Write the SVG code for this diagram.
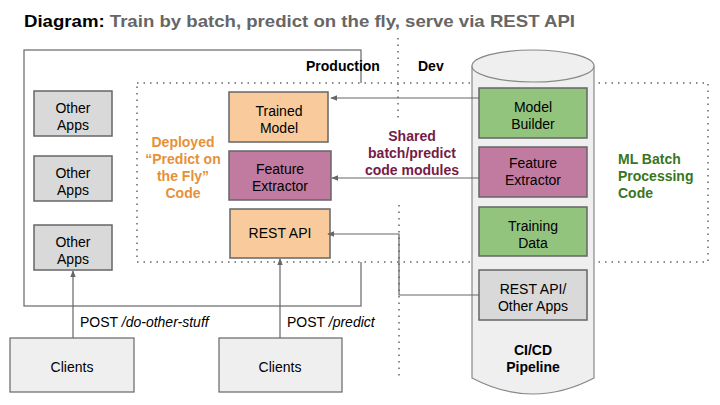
<svg xmlns="http://www.w3.org/2000/svg" width="720" height="405" viewBox="0 0 720 405">
<defs>
<style>
text{font-family:"Liberation Sans",Arial,sans-serif}
.box{stroke:#666;stroke-width:1.5}
.gray{fill:#d9d9d9}
.orange{fill:#f9cb9c}
.purple{fill:#c27ba0}
.green{fill:#93c47d}
.lbl{font-size:14px;fill:#000;text-anchor:middle}
.conn{stroke:#666;stroke-width:1.2;fill:none}
.dot{stroke:#666;stroke-width:1.5;stroke-dasharray:1.5 5;fill:none}
.b{font-weight:bold}
</style>
<marker id="arr" viewBox="0 0 10 10" refX="9" refY="5" markerWidth="6" markerHeight="6" orient="auto-start-reverse">
<path d="M0,1 L10,5 L0,9 z" fill="#666"/>
</marker>
</defs>
<rect width="720" height="405" fill="#fff"/>
<text x="24" y="27" font-size="17" class="b" textLength="551" lengthAdjust="spacingAndGlyphs"><tspan fill="#000">Diagram:</tspan><tspan fill="#666"> Train by batch, predict on the fly, serve via REST API</tspan></text>

<g id="production">
<rect x="24" y="50" width="337" height="256" fill="none" stroke="#666" stroke-width="1.2"/>
<text x="306" y="71" font-size="14" class="b">Production</text>
</g>
<g id="deployed-area">
<rect x="137" y="83" width="571" height="179" class="dot" style="fill:#fff"/>
</g>
<g id="dev-label"><text x="418" y="71" font-size="14" class="b">Dev</text></g>
<g id="divider">
<line x1="398" y1="38" x2="398" y2="120" class="dot"/>
<line x1="399" y1="205" x2="399" y2="380" class="dot"/>
</g>

<g id="other-apps-1"><rect x="34" y="91" width="78" height="45" class="box gray"/><text class="lbl" x="73" y="113">Other</text><text class="lbl" x="73" y="130">Apps</text></g>
<g id="other-apps-2"><rect x="34" y="156" width="78" height="45" class="box gray"/><text class="lbl" x="73" y="178">Other</text><text class="lbl" x="73" y="195">Apps</text></g>
<g id="other-apps-3"><rect x="34" y="225" width="78" height="45" class="box gray"/><text class="lbl" x="73" y="247">Other</text><text class="lbl" x="73" y="264">Apps</text></g>

<g id="deployed-label" font-size="14" text-anchor="middle">
<text x="183" y="147" fill="#e69138" class="b">Deployed</text>
<text x="183" y="164" fill="#e69138" class="b">“Predict on</text>
<text x="183" y="181" fill="#e69138" class="b">the Fly”</text>
<text x="183" y="198" fill="#e69138" class="b">Code</text>
</g>

<g id="trained-model"><rect x="229" y="92" width="99" height="50" class="box orange"/><text class="lbl" x="279" y="116">Trained</text><text class="lbl" x="279" y="133">Model</text></g>
<g id="feature-extractor-prod"><rect x="229" y="151" width="102" height="49" class="box purple"/><text class="lbl" x="280" y="174">Feature</text><text class="lbl" x="280" y="191">Extractor</text></g>
<g id="rest-api"><rect x="230" y="209" width="100" height="49" class="box orange"/><text class="lbl" x="280" y="238">REST API</text></g>

<g id="shared-label" font-size="14" text-anchor="middle">
<text x="412" y="141" fill="#741b47" class="b">Shared</text>
<text x="412" y="158" fill="#741b47" class="b">batch/predict</text>
<text x="412" y="175" fill="#741b47" class="b">code modules</text>
</g>

<g id="cicd-pipeline">
<path d="M472,66 L472,378 Q533,410 594,378 L594,66" fill="#efefef" stroke="#888" stroke-width="1.2"/>
<ellipse cx="533" cy="66" rx="61" ry="16" fill="#efefef" stroke="#888" stroke-width="1.2"/>
<text class="lbl b" x="533" y="355">CI/CD</text>
<text class="lbl b" x="533" y="372">Pipeline</text>
</g>
<g id="model-builder"><rect x="479" y="88" width="108" height="50" class="box green"/><text class="lbl" x="533" y="112">Model</text><text class="lbl" x="533" y="129">Builder</text></g>
<g id="feature-extractor-dev"><rect x="479" y="147" width="108" height="50" class="box purple"/><text class="lbl" x="533" y="168">Feature</text><text class="lbl" x="533" y="185">Extractor</text></g>
<g id="training-data"><rect x="479" y="207" width="108" height="49" class="box green"/><text class="lbl" x="533" y="231">Training</text><text class="lbl" x="533" y="248">Data</text></g>
<g id="rest-api-other"><rect x="479" y="270" width="108" height="50" class="box gray"/><text class="lbl" x="533" y="294">REST API/</text><text class="lbl" x="533" y="311">Other Apps</text></g>

<g id="ml-batch-label" font-size="14">
<text x="618" y="164" fill="#38761d" class="b">ML Batch</text>
<text x="618" y="181" fill="#38761d" class="b">Processing</text>
<text x="618" y="198" fill="#38761d" class="b">Code</text>
</g>

<g id="clients-1"><rect x="10" y="338" width="124" height="54" fill="#efefef" stroke="#666" stroke-width="1.2"/><text class="lbl" x="72" y="372">Clients</text></g>
<g id="clients-2"><rect x="219" y="338" width="123" height="54" fill="#efefef" stroke="#666" stroke-width="1.2"/><text class="lbl" x="280" y="372">Clients</text></g>

<g id="connectors">
<line x1="479" y1="98" x2="331" y2="98" class="conn" marker-end="url(#arr)"/>
<line x1="479" y1="178" x2="332" y2="178" class="conn" marker-end="url(#arr)"/>
<polyline points="479,295 399,295 399,234 328,234" class="conn" marker-end="url(#arr)"/>
<line x1="73" y1="338" x2="73" y2="271" class="conn" marker-end="url(#arr)"/>
<line x1="280" y1="338" x2="280" y2="259" class="conn" marker-end="url(#arr)"/>
<text x="80" y="327" font-size="14">POST <tspan font-style="italic">/do-other-stuff</tspan></text>
<text x="287" y="327" font-size="14">POST <tspan font-style="italic">/predict</tspan></text>
</g>
</svg>
